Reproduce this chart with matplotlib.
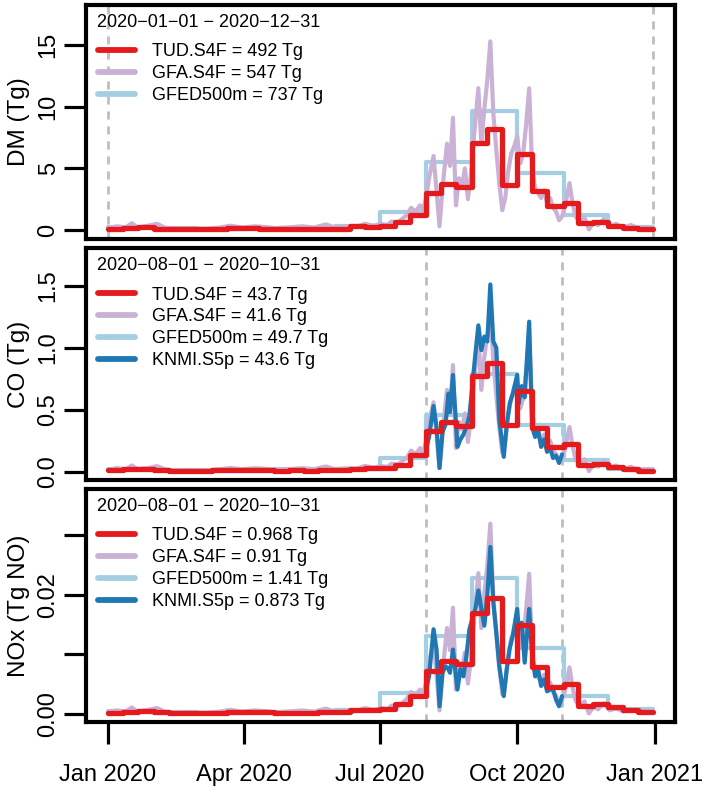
import numpy as np
import matplotlib.pyplot as plt
import matplotlib.dates as mdates
from matplotlib.lines import Line2D

plt.rcParams['font.family'] = ['Liberation Sans', 'DejaVu Sans']

# ---- data ----
# TUD.S4F: dekadal values (1st, 11th, 21st of each month)
tud_dm = [0.10, 0.18, 0.22, 0.12, 0.08, 0.08, 0.08, 0.10, 0.15, 0.15, 0.12, 0.08,
          0.10, 0.08, 0.12, 0.12, 0.30, 0.28, 0.30, 0.62, 1.25, 3.00, 3.75, 3.50,
          7.05, 8.20, 3.65, 6.15, 3.20, 1.95, 2.15, 0.60, 0.65, 0.33, 0.20, 0.10]
tud_co = [0.010, 0.018, 0.025, 0.012, 0.008, 0.008, 0.008, 0.010, 0.014, 0.015, 0.012, 0.008,
          0.010, 0.008, 0.012, 0.012, 0.025, 0.028, 0.032, 0.055, 0.135, 0.33, 0.40, 0.37,
          0.77, 0.88, 0.38, 0.65, 0.35, 0.20, 0.22, 0.055, 0.065, 0.040, 0.022, 0.008]
tud_nox = [0.0002, 0.0004, 0.0005, 0.0003, 0.0001, 0.0001, 0.0002, 0.0002, 0.0003, 0.0004, 0.0003, 0.0002,
           0.0002, 0.0002, 0.0003, 0.0003, 0.0006, 0.0007, 0.0008, 0.0016, 0.0031, 0.0072, 0.0089, 0.0083,
           0.0169, 0.0194, 0.0088, 0.0149, 0.0078, 0.0046, 0.0050, 0.0014, 0.0017, 0.0011, 0.0006, 0.0003]

# GFED500m: monthly values
gfed_dm = [0.25, 0.15, 0.10, 0.20, 0.20, 0.30, 1.45, 5.50, 9.65, 4.65, 1.22, 0.27]
gfed_co = [0.020, 0.012, 0.010, 0.018, 0.018, 0.025, 0.11, 0.46, 0.79, 0.38, 0.094, 0.022]
gfed_nox = [0.0005, 0.0003, 0.0002, 0.0004, 0.0004, 0.0006, 0.0035, 0.0131, 0.0228, 0.0111, 0.0030, 0.0009]

# GFA.S4F: daily values, sampled (day of year, 0 = 1 Jan)
gfa_days = [0, 6, 12, 16, 20, 27, 33, 38, 45, 55, 65, 75, 82, 90, 98, 105, 112, 120, 130, 138,
            146, 152, 160, 166, 172, 178, 183, 187, 190, 194, 197, 200, 203, 206, 209, 211, 213, 215,
            218, 220, 222, 224, 227, 229, 231, 233, 235, 237, 239, 241, 243, 245, 248, 250, 252, 254,
            256, 258, 260, 262, 264, 266, 268, 270, 272, 274, 276, 278, 280, 282, 284, 286, 288, 290,
            292, 294, 296, 298, 300, 302, 304, 306, 309, 311, 313, 316, 319, 322, 325, 328, 332, 336,
            340, 345, 350, 355, 360, 365]
gfa_dm = [0.15, 0.3, 0.2, 0.55, 0.2, 0.35, 0.5, 0.2, 0.1, 0.15, 0.1, 0.2, 0.35, 0.2, 0.3, 0.25, 0.15, 0.2, 0.3, 0.2,
          0.45, 0.2, 0.3, 0.25, 0.5, 0.35, 0.5, 0.4, 0.7, 0.6, 0.9, 1.2, 1.8, 1.5, 2.0, 1.6, 2.6, 4.2,
          6.0, 3.2, 0.3, 3.4, 7.0, 5.2, 9.1, 2.0, 4.2, 3.6, 5.0, 2.5, 4.5, 7.5, 11.5, 7.0, 9.8, 12.2,
          15.3, 9.5, 6.5, 3.8, 1.6, 2.6, 4.8, 6.2, 6.8, 7.6, 5.4, 6.2, 8.6, 11.5, 5.0, 3.4, 3.0, 2.6,
          3.2, 2.2, 2.6, 1.8, 1.5, 0.8, 1.1, 1.9, 3.8, 2.2, 1.1, 0.6, 1.0, 0.05, 0.6, 0.4, 0.9, 0.3,
          0.5, 0.2, 0.4, 0.15, 0.2, 0.1]
gfa_co = [0.012, 0.03, 0.02, 0.05, 0.02, 0.03, 0.045, 0.02, 0.01, 0.014, 0.01, 0.02, 0.03, 0.02, 0.028, 0.024, 0.014, 0.02, 0.028, 0.02,
          0.042, 0.02, 0.028, 0.024, 0.046, 0.033, 0.046, 0.038, 0.065, 0.056, 0.085, 0.11, 0.17, 0.14, 0.19, 0.15, 0.25, 0.40,
          0.56, 0.30, 0.03, 0.32, 0.66, 0.49, 0.86, 0.19, 0.40, 0.34, 0.47, 0.24, 0.43, 0.71, 1.09, 0.66, 0.93, 1.10,
          1.30, 0.90, 0.62, 0.36, 0.15, 0.25, 0.46, 0.59, 0.65, 0.72, 0.51, 0.59, 0.82, 1.09, 0.48, 0.32, 0.29, 0.25,
          0.30, 0.21, 0.25, 0.17, 0.14, 0.08, 0.10, 0.18, 0.36, 0.21, 0.10, 0.06, 0.10, 0.005, 0.06, 0.04, 0.085, 0.03,
          0.05, 0.02, 0.04, 0.014, 0.02, 0.01]
gfa_nox = [0.0003, 0.0006, 0.0004, 0.0011, 0.0004, 0.0007, 0.0010, 0.0004, 0.0002, 0.0003, 0.0002, 0.0004, 0.0007, 0.0004, 0.0006, 0.0005, 0.0003, 0.0004, 0.0006, 0.0004,
           0.0009, 0.0004, 0.0006, 0.0005, 0.0010, 0.0007, 0.0010, 0.0008, 0.0014, 0.0012, 0.0018, 0.0025, 0.0037, 0.0031, 0.0041, 0.0033, 0.0053, 0.0086,
           0.0123, 0.0066, 0.0006, 0.0070, 0.0144, 0.0107, 0.0178, 0.0041, 0.0086, 0.0074, 0.0103, 0.0051, 0.0092, 0.0154, 0.0236, 0.0144, 0.0201, 0.0250,
           0.0319, 0.0195, 0.0133, 0.0078, 0.0033, 0.0053, 0.0098, 0.0127, 0.0139, 0.0156, 0.0111, 0.0127, 0.0176, 0.0235, 0.0103, 0.0070, 0.0062, 0.0053,
           0.0066, 0.0045, 0.0053, 0.0037, 0.0031, 0.0016, 0.0023, 0.0039, 0.0078, 0.0045, 0.0023, 0.0012, 0.0021, 0.0001, 0.0012, 0.0008, 0.0018, 0.0006,
           0.0010, 0.0004, 0.0008, 0.0003, 0.0004, 0.0002]

# KNMI.S5p: daily values, Aug-Oct only
knmi_days = [213, 215, 218, 220, 222, 224, 226, 228, 229, 231, 234, 236, 238, 240, 242, 244, 246, 248, 250,
             252, 254, 256, 258, 260, 262, 265, 267, 269, 271, 274, 275, 277, 279, 282, 284, 286, 288, 290,
             292, 294, 296, 298, 300, 302, 304]
knmi_co = [0.18, 0.28, 0.53, 0.36, 0.03, 0.32, 0.38, 0.63, 0.48, 0.78, 0.20, 0.26, 0.30, 0.36, 0.45, 0.70, 0.95, 1.18, 0.98,
           1.09, 1.05, 1.51, 1.05, 1.00, 0.42, 0.12, 0.38, 0.55, 0.63, 0.78, 0.55, 0.69, 0.60, 1.21, 0.36, 0.28, 0.34, 0.20,
           0.26, 0.16, 0.19, 0.11, 0.13, 0.07, 0.14]
knmi_nox = [0.0041, 0.0063, 0.0142, 0.0108, 0.0013, 0.0069, 0.0080, 0.0075, 0.0069, 0.0108, 0.0041, 0.0075, 0.0063, 0.0097, 0.0142, 0.0160, 0.0176, 0.0207, 0.0176,
            0.0148, 0.0199, 0.0280, 0.0187, 0.0137, 0.0080, 0.0030, 0.0075, 0.0110, 0.0131, 0.0176, 0.0142, 0.0153, 0.0086, 0.0176, 0.0097, 0.0063, 0.0075, 0.0047,
            0.0058, 0.0038, 0.0041, 0.0041, 0.0024, 0.0013, 0.0030]

totals_dm = ['492 Tg', '547 Tg', '737 Tg']
totals_co = ['43.7 Tg', '41.6 Tg', '49.7 Tg', '43.6 Tg']
totals_nox = ['0.968 Tg', '0.91 Tg', '1.41 Tg', '0.873 Tg']
periods = [('2020-01-01', '2020-12-31'), ('2020-08-01', '2020-10-31'), ('2020-08-01', '2020-10-31')]
ylabels = ['DM (Tg)', 'CO (Tg)', 'NOx (Tg NO)']

# ---- helpers ----
start = np.datetime64('2020-01-01')
end = np.datetime64('2020-12-31')
dekads = np.array([np.datetime64('2020-%02d-%02d' % (m, d)) for m in range(1, 13) for d in (1, 11, 21)])
months = np.arange('2020-01', '2021-01', dtype='datetime64[M]').astype('datetime64[D]')

def doy(days):
    return start + np.asarray(days).astype('timedelta64[D]')

def steps(ax, starts, vals, **kw):
    x = np.append(starts, end)
    y = np.append(vals, vals[-1])
    ax.plot(x, y, drawstyle='steps-post', **kw)

c_tud = '#E41A1C'
c_gfa = '#CAB2D6'
c_gfed = '#A6CEE3'
c_knmi = '#1F78B4'
lkw = dict(solid_capstyle='round', solid_joinstyle='round')

fig = plt.figure(figsize=(7.13, 7.94), dpi=100)
W, H = 713.0, 794.0
boxes = [(5, 239), (248, 480), (489, 722)]
ylims = [(-0.73, 18.25), (-0.067, 1.804), (-0.00134, 0.0377)]
yticks = [([0, 5, 10, 15], ['0', '5', '10', '15']),
          ([0, 0.5, 1.0, 1.5], ['0.0', '0.5', '1.0', '1.5']),
          ([0, 0.01, 0.02, 0.03], ['0.00', '', '0.02', ''])]

series = [
    (tud_dm, gfed_dm, gfa_dm, None, totals_dm),
    (tud_co, gfed_co, gfa_co, knmi_co, totals_co),
    (tud_nox, gfed_nox, gfa_nox, knmi_nox, totals_nox),
]

x0 = mdates.date2num(start)
x1 = mdates.date2num(end)
pad = 0.04 * (x1 - x0)

for i, (tud, gfed, gfa, knmi, tot) in enumerate(series):
    top, bot = boxes[i]
    h = float(bot - top)
    ax = fig.add_axes([86 / W, 1 - bot / H, 589 / W, h / H])
    p0, p1 = periods[i]
    for d in (p0, p1):
        ax.axvline(np.datetime64(d), color='#BEBEBE', lw=2, ls=(0, (2.9, 2.5)), zorder=1)

    steps(ax, months, gfed, color=c_gfed, lw=3.0, zorder=2, **lkw)
    ax.plot(doy(gfa_days), gfa, color=c_gfa, lw=3.0, zorder=3, **lkw)
    if knmi is not None:
        ax.plot(doy(knmi_days), knmi, color=c_knmi, lw=3.0, zorder=4, **lkw)
    steps(ax, dekads, tud, color=c_tud, lw=3.8, zorder=5, **lkw)

    ax.set_xlim(x0 - pad, x1 + pad)
    ax.set_ylim(*ylims[i])
    ax.set_yticks(yticks[i][0])
    ax.set_yticklabels(yticks[i][1])
    ax.tick_params(axis='y', length=16, width=2.3, labelsize=17, pad=3, labelrotation=90)
    for lab in ax.get_yticklabels():
        lab.set_va('center')
    for s in ax.spines.values():
        s.set_linewidth(3)
    ax.set_ylabel(ylabels[i], fontsize=17.5, va='center')
    ax.yaxis.set_label_coords(-0.113, 0.5)

    if i == 2:
        ax.set_xticks([np.datetime64(m) for m in ['2020-01-01', '2020-04-01', '2020-07-01', '2020-10-01', '2021-01-01']])
        ax.xaxis.set_major_formatter(mdates.DateFormatter('%b %Y'))
        ax.tick_params(axis='x', length=16, width=2.3, labelsize=17, pad=14)
    else:
        ax.tick_params(axis='x', bottom=False, labelbottom=False)

    # legend: period title as text, entries as legend
    title = (p0 + ' - ' + p1).replace('-', '\u2212')
    ax.text(0.019, 1 - 17.5 / h, title, transform=ax.transAxes, ha='left', va='center', fontsize=13)

    names = ['TUD.S4F', 'GFA.S4F', 'GFED500m', 'KNMI.S5p']
    cols = [c_tud, c_gfa, c_gfed, c_knmi]
    n = len(tot)
    handles = [Line2D([], [], color=cols[k], lw=4.2, solid_capstyle='round') for k in range(n)]
    labels = ['%s = %s' % (names[k], tot[k]) for k in range(n)]
    ax.legend(handles, labels, loc='upper left', bbox_to_anchor=(0.021, 1 - 38.5 / h), frameon=False,
              fontsize=13, handlelength=2.05, handletextpad=0.9, labelspacing=0.27,
              borderaxespad=0, borderpad=0)

fig.savefig('out.png', dpi=100)
